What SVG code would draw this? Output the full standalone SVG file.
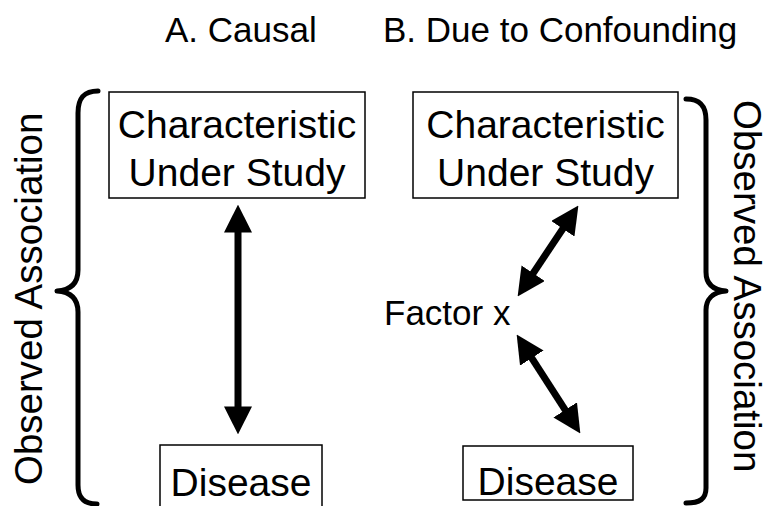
<svg xmlns="http://www.w3.org/2000/svg" width="772" height="506" viewBox="0 0 772 506">
<defs>
<style>
text{font-family:"Liberation Sans",Arial,sans-serif;fill:#000}
.t{font-size:35px}
.v{font-size:38.5px}
.n{font-size:39px;text-anchor:middle}
.box{fill:#fff;stroke:#000;stroke-width:1.5}
.arr{stroke:#000;stroke-width:7;fill:none;marker-start:url(#h);marker-end:url(#h)}
.br{fill:none;stroke:#000;stroke-width:5;stroke-linecap:round;stroke-linejoin:round}
</style>
<marker id="h" viewBox="0 0 10 10" refX="7" refY="5" markerWidth="28" markerHeight="28" markerUnits="userSpaceOnUse" orient="auto-start-reverse">
<path d="M0,0L10,5L0,10z" fill="#000"/>
</marker>
</defs>
<rect width="772" height="506" fill="#fff"/>
<text class="t" x="165" y="42">A. Causal</text>
<text class="t" x="383" y="42">B. Due to Confounding</text>
<g id="brace-left">
<path class="br" d="M98,91 C84,91 78,98 78,113 L78,270 C78,282 72,290 57,291 C72,292 78,300 78,312 L78,485 C78,498 84,504 97,504"/>
<text class="v" transform="translate(42,485) rotate(-90)">Observed Association</text>
</g>
<g id="brace-right">
<path class="br" d="M686,99 C700,99 706,106 706,120 L706,272 C706,283 712,290 726,291 C712,292 706,300 706,310 L706,488 C706,499 700,503 686,503"/>
<text class="v" transform="translate(734,100) rotate(90)">Observed Association</text>
</g>
<g id="causal-characteristic">
<rect class="box" x="109" y="92" width="256" height="106"/>
<text class="n" x="237" y="138">Characteristic</text>
<text class="n" x="237" y="186">Under Study</text>
</g>
<g id="causal-disease">
<rect class="box" x="160" y="445" width="162" height="70"/>
<text class="n" x="241" y="496">Disease</text>
</g>
<g id="confounding-characteristic">
<rect class="box" x="413" y="92" width="265" height="106"/>
<text class="n" x="545.5" y="138">Characteristic</text>
<text class="n" x="545.5" y="186">Under Study</text>
</g>
<g id="factor-x">
<text class="t" x="384" y="325">Factor x</text>
</g>
<g id="confounding-disease">
<rect class="box" x="463" y="446" width="170" height="54"/>
<text class="n" x="548" y="495">Disease</text>
</g>
<g id="connectors">
<line class="arr" x1="238" y1="213" x2="238" y2="426"/>
<line class="arr" x1="573.7" y1="212.5" x2="522.3" y2="289.5"/>
<line class="arr" x1="521.2" y1="341.6" x2="575.8" y2="426.4"/>
</g>
</svg>
